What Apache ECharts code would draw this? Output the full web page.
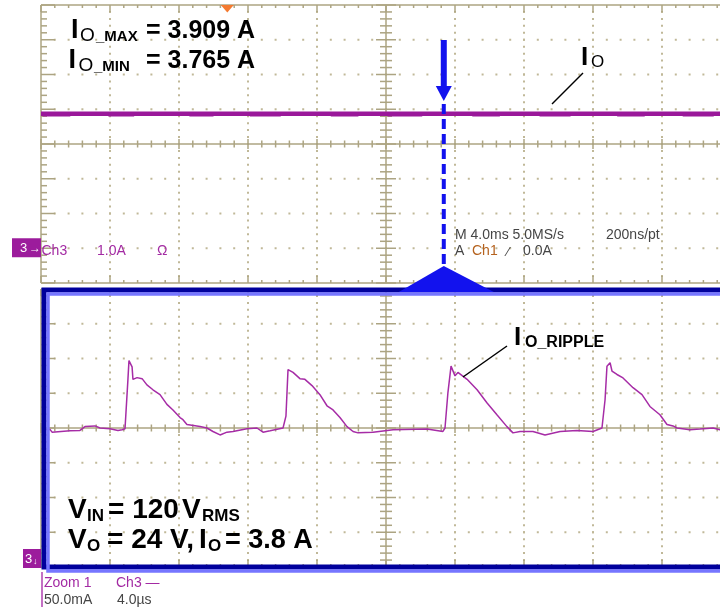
<!DOCTYPE html>
<html>
<head>
<meta charset="utf-8">
<script src="https://cdn.jsdelivr.net/npm/echarts@6/dist/echarts.min.js"></script>
<style>
  html, body { margin: 0; padding: 0; background: #ffffff; }
  #scope { width: 720px; height: 613px; }
</style>
</head>
<body>
<div id="scope"></div>
<script>
// ---- Main acquisition (Ch3 output current, 4.0 ms/div, 1.0 A/div) ----
const mainTimeMs = [0, 4, 8, 12, 16, 20, 24, 28, 32, 36, 40];
const mainCurrentA = [3.87, 3.87, 3.87, 3.87, 3.87, 3.87, 3.87, 3.87, 3.87, 3.87, 3.87];
// stretches where the trace band widens downward
const bandStartMs = [0.1, 3.9, 8.6, 12.1, 16.8, 20.1, 25.0, 28.9, 33.4, 37.2];
const bandEndMs   = [1.7, 5.4, 10.0, 13.9, 18.4, 22.1, 26.6, 30.7, 35.0, 39.0];
const bandLowA = 3.835;

// ---- Zoom 1 window (Ch3, 4.0 us/div, 50.0 mA/div) ----
const zoomTimeUs = [
  0.12, 0.52, 0.64, 1.68, 2.26, 2.55, 3.13, 3.42, 4.00, 4.46, 4.70, 4.87,
  5.04, 5.10, 5.28, 5.33, 5.57, 5.86, 6.14, 6.49, 6.90, 7.30, 7.65, 8.06, 8.23, 8.46,
  9.22, 9.62, 9.97, 10.38, 10.78, 11.13, 11.94, 12.52, 12.87, 13.28, 14.03,
  14.20, 14.32, 14.61, 15.01, 15.30, 15.71, 16.17, 16.58, 16.93, 17.33, 17.74,
  18.09, 18.38, 19.25, 20.41, 22.38, 23.30, 23.42,
  23.59, 23.77, 24.00, 24.17, 24.70, 25.28, 25.86, 26.43, 27.01,
  27.36, 27.77, 28.52, 29.22, 30.09, 31.07, 32.00, 32.52,
  32.70, 32.81, 32.99, 33.10, 33.39, 33.74, 34.32, 34.84, 35.30, 35.88, 36.29,
  36.64, 36.87, 37.62, 38.20, 38.96, 39.36, 39.80
];
const zoomCurrentMa = [
  -2, -2, -6, -4, -3.5, 2, 3, 0, -1, -3.5, -2.5, -1,
  70, 97, 88, 70, 72.5, 71, 62, 55, 48, 34, 26, 15, 12, 5,
  2, 0, -5, -10, -6, -5, -1, 0, -6, -4, 0,
  17, 84, 80, 71, 70, 61, 48, 32, 26, 15, 2,
  -5, -7, -6, -2.5, -1.5, -5, 0,
  51, 89, 75, 80, 70, 55, 36, 19, 2,
  -7, -5, -5, -10, -5, -3.5, -5, 0,
  41, 89, 94, 82, 77, 72, 58, 48, 31, 19, 5,
  3, 0, -2.5, -1.5, 0, -2.5, -1
];

// position of the zoom window and the trigger point on the main record (ms)
const zoomCenterMs = 23.35;
const triggerMarkMs = 10.8;

const FONT = '"Liberation Sans", Arial, sans-serif';
const GRID_LINE = '#aca482';
const GRID_DOT = '#c0b898';
const TRACE = '#a62ca6';
const TRACE_MAIN = '#9a189a';

// graticule: dotted divisions, centre cross with minor ticks, framed edges
function graticule(idx, xMin, xMax, yMin, yMax, edges) {
  return {
    type: 'custom', xAxisIndex: idx, yAxisIndex: idx, clip: false, silent: true, z: 1,
    data: [[xMin, yMin]],
    renderItem: function (params, api) {
      const pA = api.coord([xMin, yMin]);
      const pB = api.coord([xMax, yMax]);
      const x0 = pA[0], y1 = pA[1], x1 = pB[0], y0 = pB[1];
      const dx = (x1 - x0) / 50, dy = (y1 - y0) / 40;
      const cx = x0 + 25 * dx, cy = y0 + 20 * dy;
      const kids = [];
      const seg = (a, b, c, d) => kids.push({ type: 'line', shape: { x1: a, y1: b, x2: c, y2: d },
        style: { stroke: GRID_LINE, lineWidth: 1.5 } });
      const dot = (x, y) => kids.push({ type: 'rect', shape: { x: x - 1, y: y - 1, width: 2, height: 2 },
        style: { fill: GRID_DOT } });
      for (let i = 1; i < 10; i++) {
        if (i === 5) continue;
        for (let j = 1; j < 40; j++) dot(x0 + i * 5 * dx, y0 + j * dy);
      }
      for (let k = 1; k < 8; k++) {
        if (k === 4) continue;
        for (let j = 1; j < 50; j++) dot(x0 + j * dx, y0 + k * 5 * dy);
      }
      seg(cx, y0, cx, y1);
      seg(x0, cy, x1, cy);
      for (let j = 0; j <= 40; j++) { const y = y0 + j * dy, l = j % 5 === 0 ? 10 : 6; seg(cx - l, y, cx + l, y); }
      for (let j = 0; j <= 50; j++) { const x = x0 + j * dx, l = j % 5 === 0 ? 5 : 3.5; seg(x, cy - l, x, cy + l); }
      if (edges.top) {
        seg(x0, y0, x1, y0);
        for (let j = 0; j <= 50; j++) { const x = x0 + j * dx; seg(x, y0, x, y0 + (j % 5 === 0 ? 7 : 3)); }
      }
      if (edges.bottom) {
        seg(x0, y1, x1, y1);
        for (let j = 0; j <= 50; j++) { const x = x0 + j * dx; seg(x, y1, x, y1 - (j % 5 === 0 ? 7 : 3)); }
      }
      if (edges.left) {
        seg(x0, y0, x0, y1);
        for (let j = 0; j <= 40; j++) { const y = y0 + j * dy; seg(x0, y, x0 + (j % 5 === 0 ? 14 : 6), y); }
      }
      return { type: 'group', children: kids };
    }
  };
}

const mainData = mainTimeMs.map((t, i) => [t, mainCurrentA[i]]);
const bandData = [];
bandStartMs.forEach((s, i) => {
  bandData.push([s, bandLowA], [bandEndMs[i], bandLowA], [bandEndMs[i], '-']);
});
const zoomData = zoomTimeUs.map((t, i) => [t, zoomCurrentMa[i]]);

const chart = echarts.init(document.getElementById('scope'));
chart.setOption({
  animation: false,
  backgroundColor: '#ffffff',
  grid: [
    { left: 41, top: 5, width: 690, height: 278, outerBoundsMode: 'none', containLabel: false },
    { left: 41, top: 289, width: 690, height: 278, outerBoundsMode: 'none', containLabel: false }
  ],
  xAxis: [
    { gridIndex: 0, type: 'value', min: 0, max: 40, show: false },
    { gridIndex: 1, type: 'value', min: 0, max: 40, show: false }
  ],
  yAxis: [
    { gridIndex: 0, type: 'value', min: -1, max: 7, show: false },
    { gridIndex: 1, type: 'value', min: -200, max: 200, show: false }
  ],
  series: [
    graticule(0, 0, 40, -1, 7, { top: true, bottom: true, left: true }),
    graticule(1, 0, 40, -200, 200, { top: true, bottom: true, left: true }),
    {
      name: 'Ch3', type: 'line', xAxisIndex: 0, yAxisIndex: 0, data: mainData,
      showSymbol: false, silent: true, z: 3,
      lineStyle: { color: TRACE_MAIN, width: 4.5 }
    },
    {
      name: 'Ch3 band', type: 'line', xAxisIndex: 0, yAxisIndex: 0, data: bandData,
      showSymbol: false, silent: true, connectNulls: false, z: 3,
      lineStyle: { color: TRACE_MAIN, width: 3 }
    },
    {
      name: 'Zoom 1', type: 'line', xAxisIndex: 1, yAxisIndex: 1, data: zoomData,
      showSymbol: false, silent: true, z: 3,
      lineStyle: { color: TRACE, width: 1.5 }
    }
  ]
});

// overlays placed from the axis scales
const trigX = chart.convertToPixel({ xAxisIndex: 0 }, zoomCenterMs);
const markX = chart.convertToPixel({ xAxisIndex: 0 }, triggerMarkMs);
const zLeft = chart.convertToPixel({ xAxisIndex: 1 }, 0);
const zTop = chart.convertToPixel({ yAxisIndex: 1 }, 200);
const zBottom = chart.convertToPixel({ yAxisIndex: 1 }, -200);
const ch3Ground = chart.convertToPixel({ yAxisIndex: 0 }, 0);

function label(x, base, text, size, weight, color) {
  return {
    type: 'text', x: x, y: base - 0.35 * size, z: 100,
    style: {
      text: text, fontFamily: FONT, fontSize: size, fontWeight: weight || 'normal',
      fill: color || '#000', align: 'left', verticalAlign: 'middle'
    }
  };
}

const BOX_DARK = '#00009c';
const BOX_LIGHT = '#7676ff';
const MARK_BLUE = '#1212ee';
const PURPLE = '#a32aa3';
const UI_GREY = '#454545';

const graphics = [
  // zoom window frame with its offset highlight
  { type: 'rect', z: 90, shape: { x: zLeft + 3, y: zTop + 1, width: 760, height: zBottom - zTop - 1 },
    style: { fill: null, stroke: BOX_DARK, lineWidth: 5 } },
  { type: 'polygon', z: 91,
    shape: { points: [[trigX - 45, zTop + 3], [trigX, zTop - 23], [trigX + 50, zTop + 3]] },
    style: { fill: MARK_BLUE } },
  { type: 'rect', z: 92, shape: { x: zLeft + 7, y: zTop + 5, width: 760, height: zBottom - zTop - 1 },
    style: { fill: null, stroke: BOX_LIGHT, lineWidth: 3.5 } },
  // zoom position marker: arrow and dashed drop line
  { type: 'rect', z: 95, shape: { x: trigX - 3, y: 40, width: 6, height: 48 }, style: { fill: MARK_BLUE } },
  { type: 'polygon', z: 95, shape: { points: [[trigX - 8, 86], [trigX + 8, 86], [trigX, 101]] },
    style: { fill: MARK_BLUE } },
  { type: 'line', z: 95, shape: { x1: trigX, y1: 104, x2: trigX, y2: zTop - 22 },
    style: { stroke: MARK_BLUE, lineWidth: 4, lineDash: [10, 5] } },
  // trigger position marker
  { type: 'polygon', z: 95, shape: { points: [[markX - 6.5, 5], [markX + 6.5, 5], [markX, 12.5]] },
    style: { fill: '#f47a30' } },
  // leader lines
  { type: 'line', z: 100, shape: { x1: 583, y1: 73, x2: 552, y2: 104 }, style: { stroke: '#000', lineWidth: 1.5 } },
  { type: 'line', z: 100, shape: { x1: 507, y1: 346, x2: 463, y2: 377 }, style: { stroke: '#000', lineWidth: 1.5 } },

  // measurement notes
  label(71, 40, 'I', 27, 'bold'),
  label(80, 42.5, 'O', 19, 'normal'),
  label(96, 42.5, '_MAX', 15, 'bold'),
  label(146, 40, '= 3.909 A', 25, 'bold'),
  label(68.5, 70, 'I', 27, 'bold'),
  label(78.5, 72.5, 'O', 19, 'normal'),
  label(94, 72.5, '_MIN', 15, 'bold'),
  label(146, 70, '= 3.765 A', 25, 'bold'),

  label(581, 67, 'I', 26, 'bold'),
  label(591, 68, 'O', 17, 'normal'),
  label(514, 347, 'I', 26, 'bold'),
  label(525, 348.5, 'O_RIPPLE', 16, 'bold'),

  label(68, 520, 'V', 28, 'bold'),
  label(87, 522, 'IN', 17, 'bold'),
  label(108, 520, '= 120', 28, 'bold'),
  label(182, 520, 'V', 28, 'bold'),
  label(202, 522, 'RMS', 17, 'bold'),
  label(68, 550, 'V', 28, 'bold'),
  label(87, 552, 'O', 17, 'bold'),
  label(107, 550, '= 24 V,', 28, 'bold'),
  label(199, 550, 'I', 28, 'bold'),
  label(208, 552, 'O', 17, 'bold'),
  label(225, 550, '= 3.8 A', 27, 'bold'),

  // channel 3 ground marker and readouts
  { type: 'rect', z: 96, shape: { x: 12, y: ch3Ground - 10, width: 29, height: 19 }, style: { fill: '#9c1c9c' } },
  label(20, ch3Ground + 4.5, '3', 13, 'normal', '#ffffff'),
  label(29, ch3Ground + 4.5, '\u2192', 12, 'normal', '#ffffff'),
  label(41.5, 256.5, 'Ch3', 14, 'normal', PURPLE),
  label(97, 256.5, '1.0A', 14, 'normal', PURPLE),
  label(157, 256.5, '\u03a9', 14, 'normal', PURPLE),

  label(455, 240, 'M 4.0ms 5.0MS/s', 14, 'normal', UI_GREY),
  label(606, 240, '200ns/pt', 14, 'normal', UI_GREY),
  label(455, 256.5, 'A', 14, 'normal', UI_GREY),
  label(472, 256.5, 'Ch1', 14, 'normal', '#b5621e'),
  label(507, 256.5, '\u2215', 13, 'normal', UI_GREY),
  label(523, 256.5, '0.0A', 14, 'normal', UI_GREY),

  { type: 'rect', z: 96, shape: { x: 23, y: zBottom - 18, width: 18, height: 19 }, style: { fill: '#9c1c9c' } },
  label(25, zBottom - 3, '3', 13, 'normal', '#ffffff'),
  label(33, zBottom - 2, '\u2193', 9, 'normal', '#ffffff'),
  { type: 'line', z: 96, shape: { x1: 42, y1: 572, x2: 42, y2: 607 }, style: { stroke: '#b040b0', lineWidth: 1.5 } },
  label(44, 588, 'Zoom 1', 14, 'normal', PURPLE),
  label(116, 588, 'Ch3 \u2014', 14, 'normal', PURPLE),
  label(44, 605, '50.0mA', 14, 'normal', UI_GREY),
  label(117, 605, '4.0\u00b5s', 14, 'normal', UI_GREY)
];

chart.setOption({ graphic: { elements: graphics } });
</script>
</body>
</html>
